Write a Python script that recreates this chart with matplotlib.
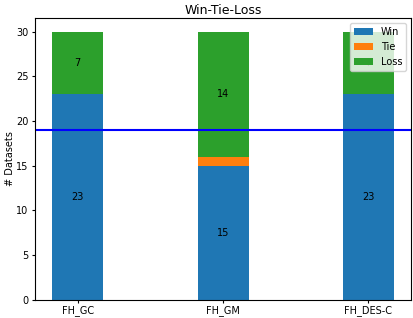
import numpy as np
import matplotlib
matplotlib.use("Agg")
import matplotlib.pyplot as plt

methods = ["FH_GC", "FH_GM", "FH_DES-C"]
wins = [23, 15, 23]
ties = [0, 1, 0]
losses = [7, 14, 7]
threshold = 19

plt.rcParams['font.size'] = 7
plt.rcParams['xtick.major.size'] = 2.5
plt.rcParams['ytick.major.size'] = 2.5
plt.rcParams['xtick.major.pad'] = 1.5
plt.rcParams['ytick.major.pad'] = 2.5

fig = plt.figure(figsize=(4.14, 3.18), dpi=100)
ax = fig.add_axes([35.3 / 414, 18.3 / 318, 375.7 / 414, 281.4 / 318])

x = np.arange(len(methods))
w = 0.35
wins = np.array(wins)
ties = np.array(ties)
losses = np.array(losses)

ax.bar(x, wins, w, label="Win")
ax.bar(x, ties, w, bottom=wins, label="Tie")
ax.bar(x, losses, w, bottom=wins + ties, label="Loss")

# value labels in the middle of each segment
for i in range(len(x)):
    ax.text(x[i], wins[i] / 2, str(wins[i]), ha="center", va="center")
    ax.text(x[i], wins[i] + ties[i] + losses[i] / 2, str(losses[i]), ha="center", va="center")

ax.axhline(threshold, color="blue")
ax.set_xticks(x)
ax.set_xticklabels(methods)
ax.set_ylabel("# Datasets", labelpad=0.5)
ax.set_title("Win-Tie-Loss", fontsize=9, pad=3)
ax.legend(loc="upper right")

fig.savefig("out.png", dpi=100)
